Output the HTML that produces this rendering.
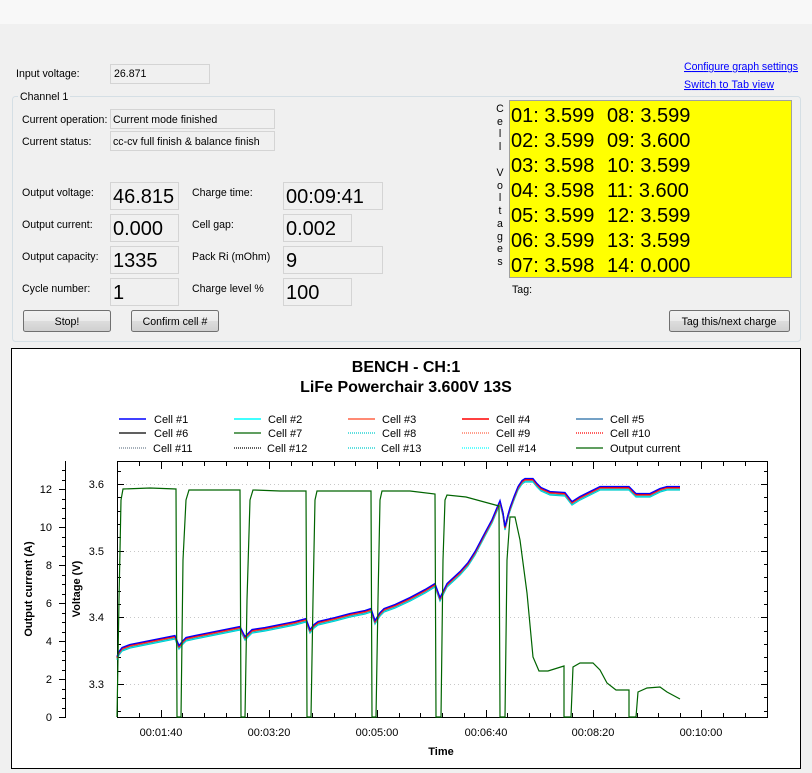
<!DOCTYPE html>
<html><head><meta charset="utf-8"><style>
html,body{margin:0;padding:0;background:#f0f0f0;}
svg{display:block;}
text{font-family:"Liberation Sans",sans-serif;}
</style></head><body>
<svg width="812" height="773" viewBox="0 0 812 773" xmlns="http://www.w3.org/2000/svg">
<rect x="0" y="0" width="812" height="773" fill="#f0f0f0"/>
<rect x="0" y="0" width="812" height="24" fill="#f8f8f8"/>
<g font-size="10.6" fill="#000">
<text x="16" y="77">Input voltage:</text>
<rect x="110.5" y="64.5" width="99" height="19" fill="#f0f0f0" stroke="#d4d4d4"/>
<text x="114" y="77">26.871</text>
<rect x="12.5" y="96.5" width="788" height="245" fill="none" stroke="#d5dfe5" rx="3"/>
<rect x="18" y="90" width="52" height="12" fill="#f0f0f0"/>
<text x="20" y="100">Channel 1</text>
<text x="22" y="123">Current operation:</text>
<rect x="110.5" y="109.5" width="164" height="19" fill="#f0f0f0" stroke="#d4d4d4"/>
<text x="113" y="123">Current mode finished</text>
<text x="22" y="145">Current status:</text>
<rect x="110.5" y="131.5" width="164" height="19" fill="#f0f0f0" stroke="#d4d4d4"/>
<text x="113" y="145">cc-cv full finish &amp; balance finish</text>
<text x="22" y="196">Output voltage:</text>
<text x="22" y="228">Output current:</text>
<text x="22" y="260">Output capacity:</text>
<text x="22" y="292">Cycle number:</text>
<text x="192" y="196">Charge time:</text>
<text x="192" y="228">Cell gap:</text>
<text x="192" y="260">Pack Ri (mOhm)</text>
<text x="192" y="292">Charge level %</text>
<g fill="#f0f0f0" stroke="#d4d4d4">
<rect x="110.5" y="182.5" width="68" height="27"/>
<rect x="110.5" y="214.5" width="68" height="27"/>
<rect x="110.5" y="246.5" width="68" height="27"/>
<rect x="110.5" y="278.5" width="68" height="27"/>
<rect x="283.5" y="182.5" width="99" height="27"/>
<rect x="283.5" y="214.5" width="68" height="27"/>
<rect x="283.5" y="246.5" width="99" height="27"/>
<rect x="283.5" y="278.5" width="68" height="27"/>
</g>
<g font-size="20">
<text x="113" y="203">46.815</text>
<text x="113" y="235">0.000</text>
<text x="113" y="267">1335</text>
<text x="113" y="299">1</text>
<text x="286" y="203">00:09:41</text>
<text x="286" y="235">0.002</text>
<text x="286" y="267">9</text>
<text x="286" y="299">100</text>
</g>
<defs><linearGradient id="bg" x1="0" y1="0" x2="0" y2="1"><stop offset="0" stop-color="#f2f2f2"/><stop offset="0.5" stop-color="#ebebeb"/><stop offset="0.5" stop-color="#dddddd"/><stop offset="1" stop-color="#cfcfcf"/></linearGradient></defs>
<rect x="23.5" y="310.5" width="87" height="21" rx="2" fill="url(#bg)" stroke="#707070"/>
<text x="67" y="325" text-anchor="middle">Stop!</text>
<rect x="131.5" y="310.5" width="87" height="21" rx="2" fill="url(#bg)" stroke="#707070"/>
<text x="175" y="325" text-anchor="middle">Confirm cell #</text>
<rect x="669.5" y="310.5" width="120" height="21" rx="2" fill="url(#bg)" stroke="#707070"/>
<text x="729" y="325" text-anchor="middle">Tag this/next charge</text>
<text x="684" y="70" fill="#0000ff" text-decoration="underline" textLength="114">Configure graph settings</text>
<text x="684" y="88" fill="#0000ff" text-decoration="underline" textLength="90">Switch to Tab view</text>
<text x="512" y="293">Tag:</text>
<g text-anchor="middle">
<text x="500" y="112">C</text><text x="500" y="125">e</text><text x="500" y="137">l</text><text x="500" y="150">l</text>
<text x="500" y="176">V</text><text x="500" y="189">o</text><text x="500" y="201">l</text><text x="500" y="214">t</text><text x="500" y="227">a</text><text x="500" y="240">g</text><text x="500" y="252">e</text><text x="500" y="265">s</text>
</g>
</g>
<rect x="509.5" y="100.5" width="282" height="177" fill="#ffff00" stroke="#a0a0a0"/>
<g font-size="20" fill="#000">
<text x="511" y="122">01: 3.599</text><text x="607" y="122">08: 3.599</text>
<text x="511" y="147">02: 3.599</text><text x="607" y="147">09: 3.600</text>
<text x="511" y="172">03: 3.598</text><text x="607" y="172">10: 3.599</text>
<text x="511" y="197">04: 3.598</text><text x="607" y="197">11: 3.600</text>
<text x="511" y="222">05: 3.599</text><text x="607" y="222">12: 3.599</text>
<text x="511" y="247">06: 3.599</text><text x="607" y="247">13: 3.599</text>
<text x="511" y="272">07: 3.598</text><text x="607" y="272">14: 0.000</text>
</g>

<!-- chart -->
<rect x="11.5" y="348.5" width="789" height="420" fill="#fff" stroke="#000"/>
<g font-weight="bold" font-size="16" text-anchor="middle">
<text x="406" y="372">BENCH - CH:1</text>
<text x="406" y="392">LiFe Powerchair 3.600V 13S</text>
</g>
<g font-size="11" fill="#000">
<text x="154" y="423">Cell #1</text><text x="268" y="423">Cell #2</text><text x="382" y="423">Cell #3</text><text x="496" y="423">Cell #4</text><text x="610" y="423">Cell #5</text>
<text x="154" y="437">Cell #6</text><text x="268" y="437">Cell #7</text><text x="382" y="437">Cell #8</text><text x="496" y="437">Cell #9</text><text x="610" y="437">Cell #10</text>
<text x="153" y="452">Cell #11</text><text x="267" y="452">Cell #12</text><text x="381" y="452">Cell #13</text><text x="496" y="452">Cell #14</text><text x="610" y="452">Output current</text>
</g>
<g stroke-width="1.2">
<line x1="119" y1="419" x2="146" y2="419" stroke="#0000ff" stroke-width="1.6"/>
<line x1="234" y1="419" x2="261" y2="419" stroke="#00ffff" stroke-width="1.6"/>
<line x1="348" y1="419" x2="375" y2="419" stroke="#ff6347" stroke-width="1.6"/>
<line x1="462" y1="419" x2="489" y2="419" stroke="#ff0000" stroke-width="1.6"/>
<line x1="576" y1="419" x2="603" y2="419" stroke="#4682b4" stroke-width="1.6"/>
<line x1="119" y1="433" x2="146" y2="433" stroke="#000"/>
<line x1="234" y1="433" x2="261" y2="433" stroke="#006400"/>
<line x1="348" y1="433" x2="375" y2="433" stroke="#00cccc" stroke-dasharray="1 1"/>
<line x1="462" y1="433" x2="489" y2="433" stroke="#ff6347" stroke-dasharray="1 1"/>
<line x1="576" y1="433" x2="603" y2="433" stroke="#ff0000" stroke-dasharray="1 1"/>
<line x1="119" y1="448" x2="146" y2="448" stroke="#708090" stroke-dasharray="1 1"/>
<line x1="234" y1="448" x2="261" y2="448" stroke="#000" stroke-dasharray="1 1"/>
<line x1="348" y1="448" x2="375" y2="448" stroke="#00cccc" stroke-dasharray="1 1"/>
<line x1="462" y1="448" x2="489" y2="448" stroke="#00ffff" stroke-dasharray="1 1"/>
<line x1="576" y1="448" x2="603" y2="448" stroke="#006400"/>
</g>
<g stroke="#c8c8c8" stroke-dasharray="1 3">
<line x1="118" y1="484.5" x2="767" y2="484.5"/>
<line x1="118" y1="551.5" x2="767" y2="551.5"/>
<line x1="118" y1="617.5" x2="767" y2="617.5"/>
<line x1="118" y1="684.5" x2="767" y2="684.5"/>
</g>
<rect x="117.5" y="461.5" width="650" height="256" fill="none" stroke="#000"/>
<g stroke="#000">
<path d="M118 484.5h6M118 551.5h6M118 617.5h6M118 684.5h6M767 484.5h-6M767 551.5h-6M767 617.5h-6M767 684.5h-6"/>
<path d="M118 471.5h3M118 497.5h3M118 511.5h3M118 524.5h3M118 537.5h3M118 564.5h3M118 577.5h3M118 591.5h3M118 604.5h3M118 631.5h3M118 644.5h3M118 657.5h3M118 671.5h3M118 697.5h3M118 711.5h3
M767 471.5h-3M767 497.5h-3M767 511.5h-3M767 524.5h-3M767 537.5h-3M767 564.5h-3M767 577.5h-3M767 591.5h-3M767 604.5h-3M767 631.5h-3M767 644.5h-3M767 657.5h-3M767 671.5h-3M767 697.5h-3M767 711.5h-3"/>
<path d="M139.5 717v-4M161.5 717v-7M182.5 717v-4M204.5 717v-4M226.5 717v-4M247.5 717v-4M269.5 717v-7M291.5 717v-4M312.5 717v-4M334.5 717v-4M355.5 717v-4M377.5 717v-7M399.5 717v-4M420.5 717v-4M442.5 717v-4M464.5 717v-4M486.5 717v-7M507.5 717v-4M529.5 717v-4M550.5 717v-4M572.5 717v-4M593.5 717v-7M615.5 717v-4M637.5 717v-4M658.5 717v-4M680.5 717v-4M701.5 717v-7M723.5 717v-4M745.5 717v-4"/>
<path d="M139.5 462v4M161.5 462v7M182.5 462v4M204.5 462v4M226.5 462v4M247.5 462v4M269.5 462v7M291.5 462v4M312.5 462v4M334.5 462v4M355.5 462v4M377.5 462v7M399.5 462v4M420.5 462v4M442.5 462v4M464.5 462v4M486.5 462v7M507.5 462v4M529.5 462v4M550.5 462v4M572.5 462v4M593.5 462v7M615.5 462v4M637.5 462v4M658.5 462v4M680.5 462v4M701.5 462v7M723.5 462v4M745.5 462v4"/>
<line x1="65.5" y1="461" x2="65.5" y2="717"/>
<path d="M59 717.5h7M59 679.5h7M59 641.5h7M59 603.5h7M59 565.5h7M59 527.5h7M59 489.5h7
M62 708.5h4M62 698.5h4M62 689.5h4M62 670.5h4M62 660.5h4M62 651.5h4M62 632.5h4M62 622.5h4M62 613.5h4M62 594.5h4M62 584.5h4M62 575.5h4M62 556.5h4M62 546.5h4M62 537.5h4M62 518.5h4M62 508.5h4M62 499.5h4M62 480.5h4M62 470.5h4"/>
</g>
<g font-size="11" fill="#000">
<g text-anchor="end">
<text x="104" y="488">3.6</text><text x="104" y="555">3.5</text><text x="104" y="621">3.4</text><text x="104" y="688">3.3</text>
<text x="52" y="721">0</text><text x="52" y="683">2</text><text x="52" y="645">4</text><text x="52" y="607">6</text><text x="52" y="569">8</text><text x="52" y="531">10</text><text x="52" y="493">12</text>
</g>
<g text-anchor="middle">
<text x="161" y="736">00:01:40</text><text x="269" y="736">00:03:20</text><text x="377" y="736">00:05:00</text><text x="486" y="736">00:06:40</text><text x="593" y="736">00:08:20</text><text x="701" y="736">00:10:00</text>
<text x="441" y="755" font-weight="bold">Time</text>
</g>
<text transform="translate(32,589) rotate(-90)" text-anchor="middle" font-weight="bold">Output current (A)</text>
<text transform="translate(80,589) rotate(-90)" text-anchor="middle" font-weight="bold">Voltage (V)</text>
</g>
<defs>
<polyline id="cv" fill="none" points="117,657 119,652 122,648 130,645 140,643 150,641 160,639 170,637 175,636 179,646 183,641 186,638 195,636 210,633 225,630 240,627 245,637 249,633 252,630 265,628 280,625 295,622 306,619 310,630 314,625 318,622 335,618 350,614 365,611 371,609 375,621 380,613 384,609 395,605 410,598 425,590 435,584 440,598 447,584 460,572 468,563 475,552 485,533 492,520 497,508 500,501 503,513 505,527 508,515 510,508 514,497 518,487 522,481 525,479 533,479 537,484 541,488 550,492 565,493 572,502 580,497 590,492 600,487 629,487 636,494 650,494 660,489 667,487 680,487"/>
</defs>
<g stroke-width="1.3">
<use href="#cv" stroke="#00cccc" transform="translate(0,3)"/>
<use href="#cv" stroke="#00ffff" transform="translate(0,2)"/>
<use href="#cv" stroke="#4682b4" transform="translate(0,1.5)"/>
<use href="#cv" stroke="#000" transform="translate(0,1)"/>
<use href="#cv" stroke="#006400" transform="translate(0,0.5)"/>
<use href="#cv" stroke="#ff6347" transform="translate(0,1)"/>
<use href="#cv" stroke="#ff0000" transform="translate(0,0.3)"/>
<use href="#cv" stroke="#0000ff" transform="translate(0,-0.5)"/>
</g>
<polyline fill="none" stroke="#006400" stroke-width="1.2" points="117,717 119,600 121,500 123,489 150,488 176,489 177,717 181,717 183,560 186,500 189,490 215,490 240,490 241,717 245,717 247,600 250,500 253,490 280,491 306,491 307,717 311,717 313,600 315,500 317,491 345,491 371,491 372,717 376,717 378,600 380,500 382,491 410,491 435,494 436,717 441,717 443,560 445,500 447,495 466,497 499,506 500,717 505,717 507,560 510,517 515,517 520,540 527,593 533,657 539,671 548,671 564,666 564,717 571,717 573,667 580,663 593,663 600,670 607,683 616,690 629,690 629,717 636,717 638,692 647,688 660,687 667,692 680,699"/>
</svg>
</body></html>
